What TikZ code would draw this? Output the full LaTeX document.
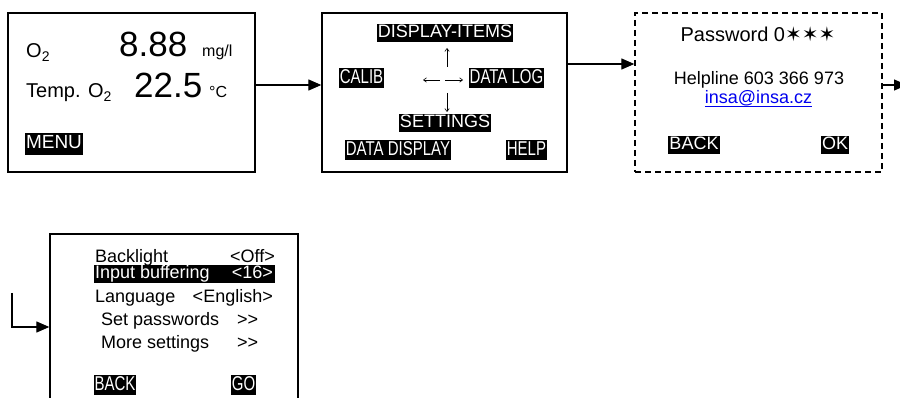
\documentclass[tikz,border=0pt]{standalone}
\usepackage{fontspec}
\setmainfont{Liberation Sans}
\newfontfamily\narrowfont{Liberation Sans}[FakeStretch=0.75]
\newfontfamily\symfont{DejaVu Sans}
\usetikzlibrary{arrows.meta}
\newcommand\ulink[1]{\setbox0\hbox{#1}\rlap{\rule[-2.6pt]{\wd0}{0.9pt}}\box0}
\definecolor{linkblue}{RGB}{0,0,238}

\tikzset{
  screen/.style={draw=black, line width=1.3pt, rectangle, inner sep=0pt},
  conn/.style={line width=1.2pt, -{Triangle[length=13pt,width=11pt]}},
  pointer/.style={line width=0.6pt, -{Straight Barb[length=3pt,width=4.5pt]}},
  txt/.style={inner sep=0pt},
  hl/.style={fill=black, text=white, inner xsep=1pt, inner ysep=1pt},
  hlreg/.style={hl, font=\fontsize{18}{21}\selectfont, text height=13pt, text depth=3.6pt},
  hlnar/.style={hl, font=\narrowfont\fontsize{20}{24}\selectfont, text height=14.4pt, text depth=4pt},
  f16/.style={font=\fontsize{16}{19}\selectfont},
  f18/.style={font=\fontsize{18}{21}\selectfont},
  f20/.style={font=\fontsize{20}{24}\selectfont},
  f35/.style={font=\fontsize{35}{40}\selectfont},
}

\begin{document}
\begin{tikzpicture}[x=1pt, y=-1pt]
\clip (0,0) rectangle (900,398);

% ---- screens ----
\node[screen, minimum width=247pt, minimum height=159pt] (b1) at (131.5,92.5) {};
\node[screen, minimum width=245pt, minimum height=159pt] (b2) at (444.5,92.5) {};
\node[screen, dash pattern=on 6pt off 4pt, minimum width=247pt, minimum height=159pt] (b3) at (758.5,92.5) {};
\node[screen, minimum width=248pt, minimum height=200pt] (b4) at (174,334) {};

% ---- main display ----
\node[txt, f20, anchor=base west] (o2) at (26,58) {O\textsubscript{2}};
\node[txt, f35, anchor=base west] (val1) at (119,57) {8.88};
\node[txt, f16, anchor=base west] (unit1) at (202,57) {mg/l};
\node[txt, f20, anchor=base west] (temp) at (26,98) {Temp. O\textsubscript{2}};
\node[txt, f35, anchor=base west] (val2) at (134,98) {22.5};
\node[txt, f16, anchor=base west] (unit2) at (209,98) {°C};
\node[hl, font=\fontsize{19}{22}\selectfont, text height=13.7pt, text depth=3.8pt, inner ysep=2pt] (menu) at (54,144) {MENU};

% ---- menu screen ----
\node[hlreg] (items) at (445,33) {DISPLAY-ITEMS};
\node[hlnar] (calib) at (361.5,78) {CALIB};
\node[hlnar] (dlog) at (506.5,78) {DATA LOG};
\node[hlreg] (sett) at (445,123) {SETTINGS};
\node[hlnar] (ddisp) at (398,150) {DATA DISPLAY};
\node[hlnar] (help) at (526.5,150) {HELP};
\draw[pointer] (447,67) -- (447,48);
\draw[pointer] (440,80) -- (423,80);
\draw[pointer] (445,80) -- (463,80);
\draw[pointer] (447,93) -- (447,112);

% ---- password screen ----
\node[txt, f20, anchor=base] (pwd) at (758,42) {Password 0{\symfont\fontsize{20}{24}\selectfont ✶✶✶}};
\node[txt, f18, anchor=base] (hline) at (759,85) {Helpline 603 366 973};
\node[txt, f18, anchor=base, text=linkblue] (mail) at (758.5,104) {\ulink{insa@insa.cz}};
\node[hlreg] (back1) at (694,145) {BACK};
\node[hlreg] (ok) at (835,145) {OK};

% ---- settings screen ----
\node[txt, f18, anchor=base west] (bl) at (95,262) {Backlight};
\node[txt, f18, anchor=base east] (blv) at (275,262) {<Off>};
\node[hlreg, inner xsep=1.5pt] (ib) at (184,274) {\makebox[178pt]{Input buffering\hfill<16>}};
\node[txt, f18, anchor=base west] (lang) at (95,302) {Language};
\node[txt, f18, anchor=base east] (langv) at (273,302) {<English>};
\node[txt, f18, anchor=base west] (pw) at (101,325) {Set passwords};
\node[txt, f18, anchor=base west] (pwv) at (237,325) {{>}{>}};
\node[txt, f18, anchor=base west] (more) at (101,348) {More settings};
\node[txt, f18, anchor=base west] (morev) at (237,348) {{>}{>}};
\node[hlnar] (back2) at (115,385) {BACK};
\node[hlnar] (go) at (243.5,385) {GO};

% ---- transitions ----
\coordinate (from) at (12,293);
\coordinate (out) at (907,85);
\draw[conn] (b1.east |- 0,85) -- (b2.west |- 0,85);
\draw[conn] (b2.east |- 0,64) -- (b3.west |- 0,64);
\draw[conn] (b3.east |- 0,85) -- (out);
\draw[conn] (from) |- (b4.west |- 0,327);
\end{tikzpicture}
\end{document}
